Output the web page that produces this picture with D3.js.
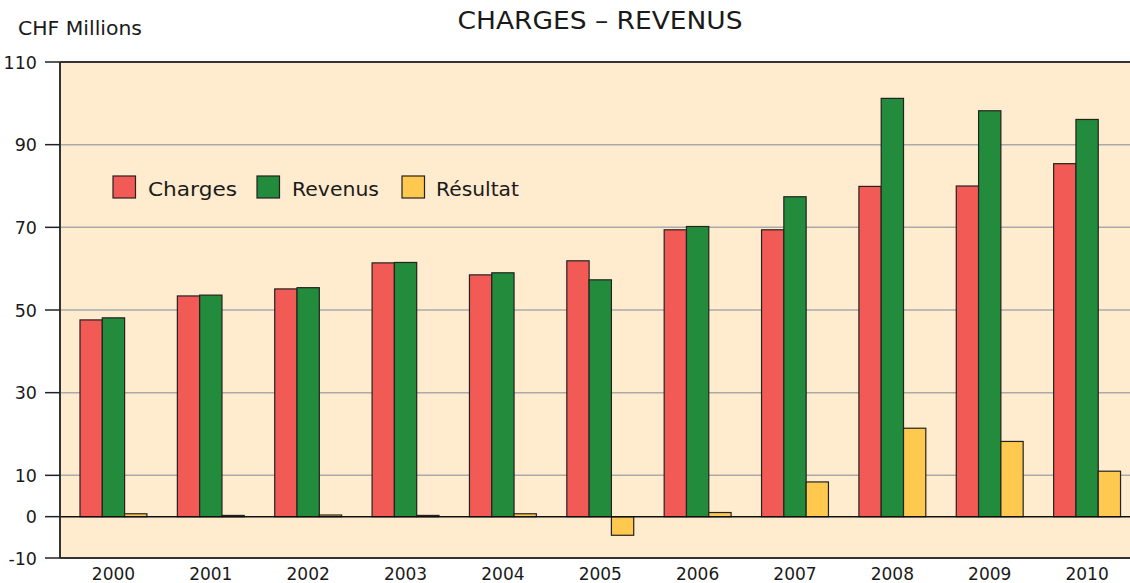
<!DOCTYPE html>
<html><head><meta charset="utf-8">
<script src="https://cdn.jsdelivr.net/npm/d3@7"></script>
<style>body{margin:0;background:#fff;} text{font-family:"DejaVu Sans",sans-serif;fill:#1a1a1a;}</style>
</head><body>
<svg id="c" width="1130" height="583"></svg>
<script>
const years = ["2000","2001","2002","2003","2004","2005","2006","2007","2008","2009","2010"];
const charges = [47.6,53.4,55.1,61.4,58.5,61.9,69.4,69.4,79.9,80.0,85.4];
const revenus = [48.1,53.6,55.4,61.5,59.0,57.3,70.2,77.4,101.2,98.2,96.1];
const resultat = [0.7,0.3,0.4,0.3,0.7,-4.5,1.0,8.4,21.4,18.2,11.0];
const seriesNames = ["Charges","Revenus","Résultat"];
const seriesColors = ["#F25B55","#228B3C","#FFC84E"];
const yTicks = [110,90,70,50,30,10,0,-10];
const gridTicks = [90,70,50,30,10];

const svg = d3.select("#c");
const L = 60, R = 1131, T = 62, B = 558;
const y = d3.scaleLinear().domain([-10,110]).range([B,T]);
const x = d3.scaleBand().domain(years).range([L,R]);
const barW = 22.3, groupOff = 20;
const xs = d3.scaleBand().domain(seriesNames).range([0, barW*3]);

svg.append("rect").attr("x",L).attr("y",T).attr("width",R-L).attr("height",B-T).attr("fill","#FFEBCD");

svg.append("g").selectAll("line").data(gridTicks).join("line")
  .attr("x1",L).attr("x2",R).attr("y1",d=>y(d)).attr("y2",d=>y(d))
  .attr("stroke","#aaa").attr("stroke-width",1.5);

const data = [charges,revenus,resultat];
const g = svg.append("g");
data.forEach((arr,si)=>{
  g.selectAll(".s"+si).data(arr).join("rect")
    .attr("x",(d,i)=>x(years[i])+groupOff+xs(seriesNames[si]))
    .attr("y",d=>y(Math.max(0,d)))
    .attr("width",xs.bandwidth())
    .attr("height",d=>Math.abs(y(d)-y(0)))
    .attr("fill",seriesColors[si])
    .attr("stroke","#222").attr("stroke-width",1.2);
});

svg.append("line").attr("x1",L).attr("x2",R).attr("y1",y(0)).attr("y2",y(0)).attr("stroke","#111").attr("stroke-width",1.5);
svg.append("line").attr("x1",L).attr("x2",R).attr("y1",T).attr("y2",T).attr("stroke","#333").attr("stroke-width",2);
svg.append("line").attr("x1",L).attr("x2",R).attr("y1",B).attr("y2",B).attr("stroke","#333").attr("stroke-width",2);
svg.append("line").attr("x1",L).attr("x2",L).attr("y1",T).attr("y2",B).attr("stroke","#333").attr("stroke-width",2);

const ya = svg.append("g");
ya.selectAll("line").data(yTicks).join("line")
  .attr("x1",45).attr("x2",L).attr("y1",d=>y(d)).attr("y2",d=>y(d)).attr("stroke","#222").attr("stroke-width",1.5);
ya.selectAll("text").data(yTicks).join("text")
  .attr("x",37).attr("y",d=>y(d)+6.5).attr("text-anchor","end")
  .attr("font-size",17.5).text(d=>d);

svg.append("g").selectAll("text").data(years).join("text")
  .attr("x",d=>x(d)+groupOff+barW*1.5).attr("y",580)
  .attr("text-anchor","middle").attr("font-size",17).text(d=>d);

svg.append("text").attr("x",600).attr("y",29).attr("text-anchor","middle").attr("font-size",24)
  .attr("textLength",285).attr("lengthAdjust","spacingAndGlyphs").text("CHARGES – REVENUS");
svg.append("text").attr("x",18).attr("y",35).attr("font-size",19)
  .attr("textLength",124).attr("lengthAdjust","spacingAndGlyphs").text("CHF Millions");

const legX = [113,257,402];
const legTxtX = [148,292,436];
const legW = [89,87,83];
const lg = svg.append("g");
seriesNames.forEach((n,i)=>{
  lg.append("rect").attr("x",legX[i]).attr("y",176).attr("width",22.5).attr("height",22)
    .attr("fill",seriesColors[i]).attr("stroke","#222").attr("stroke-width",1.2);
  lg.append("text").attr("x",legTxtX[i]).attr("y",195.5).attr("font-size",20)
    .attr("textLength",legW[i]).attr("lengthAdjust","spacingAndGlyphs").text(n);
});
</script>
</body></html>
